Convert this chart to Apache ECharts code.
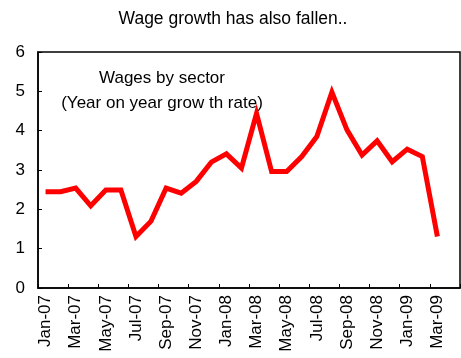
<!DOCTYPE html>
<html>
<head>
<meta charset="utf-8">
<script src="https://cdn.jsdelivr.net/npm/echarts@6/dist/echarts.min.js"></script>
<style>
  html, body { margin: 0; padding: 0; background: #fff; }
  #chart { width: 461px; height: 358px; }
</style>
</head>
<body>
<div id="chart"></div>
<script>
// Monthly categories, Jan-07 .. Apr-09 (last month has no reading yet)
const months = [
  'Jan-07','Feb-07','Mar-07','Apr-07','May-07','Jun-07','Jul-07','Aug-07','Sep-07','Oct-07','Nov-07','Dec-07',
  'Jan-08','Feb-08','Mar-08','Apr-08','May-08','Jun-08','Jul-08','Aug-08','Sep-08','Oct-08','Nov-08','Dec-08',
  'Jan-09','Feb-09','Mar-09','Apr-09'
];
// Year-on-year wage growth (%)
const wageGrowth = [
  2.45, 2.45, 2.54, 2.09, 2.49, 2.49, 1.31, 1.70, 2.54, 2.41, 2.71, 3.20,
  3.41, 3.05, 4.44, 2.96, 2.96, 3.34, 3.85, 4.98, 4.02, 3.38, 3.74, 3.21,
  3.53, 3.34, 1.31, null
];
const yTicks = [0, 1, 2, 3, 4, 5, 6];

const FONT = 'Liberation Sans, Arial, sans-serif';
const chart = echarts.init(document.getElementById('chart'));
chart.setOption({
  animation: false,
  title: {
    text: 'Wage growth has also fallen..',
    left: 228, top: 5, textAlign: 'center',
    textStyle: { fontFamily: FONT, fontSize: 17.5, fontWeight: 'normal', color: '#000' }
  },
  grid: {
    left: 38, right: 1, top: 52, bottom: 70,
    show: true, borderColor: '#000', borderWidth: 1.5, backgroundColor: '#fff'
  },
  xAxis: {
    type: 'category',
    data: months,
    boundaryGap: true,
    axisLine: { lineStyle: { color: '#000', width: 1.5 } },
    axisTick: { show: true, inside: true, length: 4, interval: 1, alignWithLabel: false, lineStyle: { color: '#000', width: 1 } },
    axisLabel: {
      interval: 1, rotate: 90, margin: 7,
      fontFamily: FONT, fontSize: 17, color: '#000'
    },
    splitLine: { show: false }
  },
  yAxis: {
    type: 'value',
    min: yTicks[0], max: yTicks[yTicks.length - 1], interval: 1,
    axisLine: { show: true, lineStyle: { color: '#000', width: 1.5 } },
    axisTick: { show: true, inside: true, length: 4, lineStyle: { color: '#000', width: 1 } },
    axisLabel: { margin: 13, fontFamily: FONT, fontSize: 17, color: '#000' },
    splitLine: { show: false }
  },
  graphic: [{
    type: 'text',
    x: 162, y: 66,
    style: {
      text: 'Wages by sector\n(Year on year grow th rate)',
      align: 'center', verticalAlign: 'top',
      fontFamily: FONT, fontSize: 17, lineHeight: 25, fill: '#000'
    }
  }],
  series: [{
    type: 'line',
    data: wageGrowth,
    symbol: 'none',
    lineStyle: { color: '#ff0000', width: 5, join: 'miter' },
    connectNulls: false
  }]
});
</script>
</body>
</html>
